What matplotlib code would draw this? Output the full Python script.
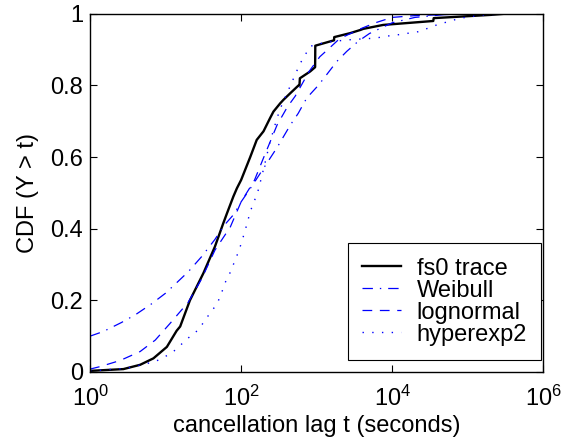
import matplotlib
matplotlib.use("Agg")
import matplotlib.pyplot as plt
from matplotlib.ticker import FixedLocator, FuncFormatter, NullLocator

plt.rcParams['font.family'] = ['Liberation Sans', 'DejaVu Sans']
plt.rcParams['mathtext.fontset'] = 'custom'
plt.rcParams['mathtext.rm'] = 'Liberation Sans'
plt.rcParams['mathtext.it'] = 'Liberation Sans:italic'
plt.rcParams['lines.scale_dashes'] = False

# fs0 trace (empirical CDF)
trace_t = [1, 2.76, 4.6, 6.9, 10.4, 14, 15.6, 21, 31.7, 45, 58, 65, 79, 88, 100,
           132, 161, 198, 242, 268, 329, 364, 446, 575, 592, 600, 820, 955, 960,
           1510, 1700, 1710, 2770, 3800, 4140, 7600, 35000, 35500, 2e5, 3e5, 1e6]
trace_cdf = [0.003, 0.008, 0.02, 0.038, 0.07, 0.115, 0.127, 0.20, 0.276, 0.35, 0.415,
             0.443, 0.49, 0.513, 0.536, 0.60, 0.648, 0.672, 0.709, 0.727, 0.75, 0.76,
             0.778, 0.80, 0.80, 0.82, 0.839, 0.851, 0.911, 0.923, 0.926, 0.935, 0.946,
             0.955, 0.958, 0.969, 0.98, 0.988, 0.997, 1.0, 1.0]

# Weibull fit
weib_t = [1, 1.5, 2.6, 4, 6.5, 10, 15, 20, 30, 45, 60, 80, 100, 137, 200, 300, 450,
          570, 740, 1050, 1300, 1850, 2500, 3540, 5000, 1e4, 2e4, 5e4, 1e5, 1e6]
weib_cdf = [0.10, 0.113, 0.138, 0.16, 0.19, 0.22, 0.255, 0.28, 0.322, 0.37, 0.41, 0.44,
            0.475, 0.517, 0.57, 0.627, 0.69, 0.722, 0.765, 0.80, 0.825, 0.867, 0.895,
            0.923, 0.945, 0.975, 0.99, 0.998, 1.0, 1.0]

# lognormal fit
logn_t = [1, 1.36, 2.5, 4.6, 7.3, 11.4, 20, 30, 45, 72, 100, 150, 200, 300, 410, 520,
          800, 1100, 1400, 2000, 2800, 4000, 6000, 1e4, 2e4, 1e5, 1e6]
logn_cdf = [0.008, 0.015, 0.032, 0.057, 0.089, 0.135, 0.195, 0.26, 0.34, 0.405, 0.475,
            0.535, 0.60, 0.69, 0.74, 0.77, 0.84, 0.88, 0.90, 0.93, 0.945, 0.96, 0.975,
            0.99, 0.995, 1.0, 1.0]

# hyperexp2 fit
hexp_t = [1, 3, 7.3, 9.9, 12.7, 20, 27, 39, 48, 55, 61, 71, 79, 90, 101, 110, 121, 132,
          149, 170, 200, 240, 300, 345, 450, 600, 820, 1000, 1500, 2500, 4000, 6000,
          8000, 11500, 16500, 22000, 30000, 40000, 55000, 80000, 1.5e5, 3e5, 1e6]
hexp_cdf = [0.003, 0.01, 0.029, 0.043, 0.057, 0.095, 0.117, 0.165, 0.19, 0.22, 0.248,
            0.276, 0.30, 0.33, 0.36, 0.387, 0.417, 0.448, 0.476, 0.51, 0.57, 0.64, 0.71,
            0.745, 0.80, 0.86, 0.909, 0.915, 0.922, 0.927, 0.93, 0.932, 0.937, 0.941,
            0.946, 0.95, 0.96, 0.97, 0.978, 0.988, 0.996, 1.0, 1.0]

fig = plt.figure(figsize=(5.7, 4.46), dpi=100)
ax = fig.add_axes([0.158, 0.166, 0.795, 0.803])

ax.plot(trace_t, trace_cdf, color='black', linewidth=1.7, label='fs0 trace')
ax.plot(weib_t, weib_cdf, color='blue', linewidth=0.9, linestyle=(0, (7.5, 5, 1, 5)), label='Weibull')
ax.plot(logn_t, logn_cdf, color='blue', linewidth=0.9, linestyle=(0, (7, 5.5)), label='lognormal')
ax.plot(hexp_t, hexp_cdf, color='blue', linewidth=1.0, linestyle=(0, (1, 6)), label='hyperexp2')

ax.set_xscale('log')
ax.set_xlim(1, 1e6)
ax.set_ylim(0, 1)
ax.xaxis.set_major_locator(FixedLocator([1, 1e2, 1e4, 1e6]))
ax.xaxis.set_minor_locator(NullLocator())
ax.set_yticks([0, 0.2, 0.4, 0.6, 0.8, 1])
ax.yaxis.set_major_formatter(FuncFormatter(lambda v, p: '%g' % v))
ax.tick_params(direction='in', top=True, right=True, labelsize=17, length=5, width=0.8)
ax.tick_params(axis='y', pad=5)
ax.tick_params(axis='x', pad=10)
for s in ax.spines.values():
    s.set_linewidth(1.0)

ax.set_xlabel('cancellation lag t (seconds)', fontsize=17, labelpad=3)
ax.set_ylabel('CDF (Y > t)', fontsize=17, labelpad=8)

leg = ax.legend(loc='lower right', bbox_to_anchor=(0.996, 0.034), fontsize=17,
                fancybox=False, framealpha=1, edgecolor='black', borderaxespad=0,
                handlelength=1.65, handletextpad=0.68, labelspacing=0.0, borderpad=0.6)
leg.get_frame().set_linewidth(0.8)

plt.savefig('out.png')
